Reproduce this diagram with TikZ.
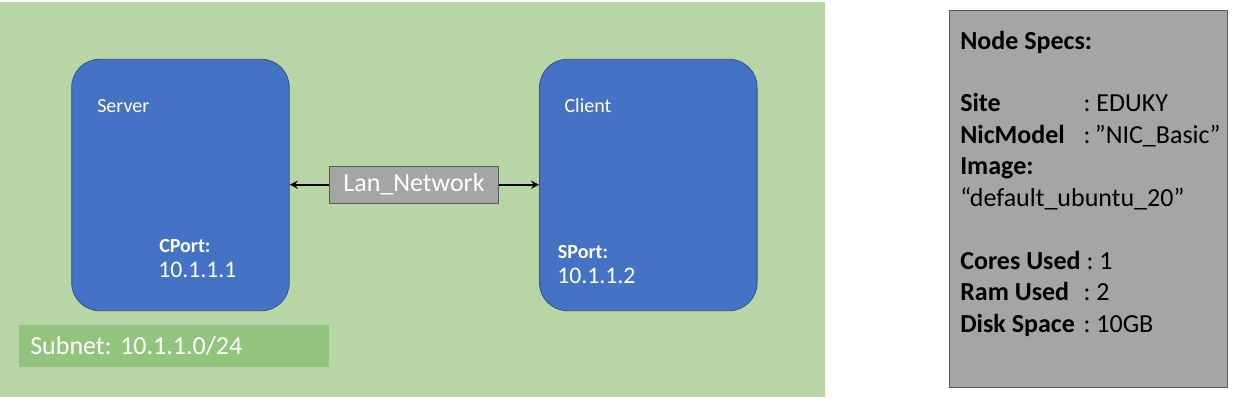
\documentclass[tikz,border=0pt]{standalone}
\usepackage{fontspec}
\setmainfont{Carlito}
\frenchspacing
\usetikzlibrary{arrows.meta}
\definecolor{subnetbg}{HTML}{B8D6A5}
\definecolor{subnetlbl}{HTML}{93C47D}
\definecolor{vmblue}{HTML}{4472C4}
\definecolor{vmedge}{HTML}{2F528F}
\definecolor{boxgray}{HTML}{A5A5A5}
\definecolor{boxedge}{HTML}{595959}
\tikzset{
  vmbox/.style={draw=vmedge, fill=vmblue, line width=0.6pt, rounded corners=21pt,
    minimum width=163.2pt, minimum height=188.6pt, inner sep=0pt},
  vmtext/.style={text=white, anchor=base west, inner sep=0pt, font=\fontsize{15}{18}\selectfont},
  iptext/.style={vmtext, font=\fontsize{17.8}{21}\selectfont},
  lanbox/.style={draw=boxedge, fill=boxgray, line width=0.75pt, text=white, inner sep=0pt,
    minimum width=127pt, minimum height=28pt, font=\fontsize{19.5}{23}\selectfont},
  subnetbox/.style={fill=subnetlbl, text=white, anchor=west, inner xsep=8.25pt, inner ysep=0pt,
    minimum height=31.3pt, text width=216pt, align=left, font=\fontsize{19.5}{23}\selectfont},
  specbox/.style={draw=boxedge, fill=boxgray, line width=0.75pt, minimum width=208.5pt,
    minimum height=282.5pt, inner sep=0pt},
  link/.style={line width=1.5pt, -{Stealth[length=6pt,width=6pt]}}
}
\begin{document}
\begin{tikzpicture}[x=0.75pt, y=-0.75pt, line join=round]
  \useasboundingbox (0,0) rectangle (1238,403);
  % subnet area
  \fill[subnetbg] (0,2) rectangle (825,397);
  \node[subnetbox] (subnet) at (19,345.8) {Subnet: 10.1.1.0/24};
  % nodes
  \node[vmbox] (server) at (180.5,185) {};
  \node[vmbox] (client) at (648.3,185) {};
  \node[vmtext] (servername) at (97,112.3) {Server};
  \node[vmtext] (clientname) at (564.3,112.3) {Client};
  \node[vmtext] (cport) at (159,252.3) {\bfseries CPort:};
  \node[iptext] (cip) at (158,277) {10.1.1.1};
  \node[vmtext] (sport) at (557.7,258.3) {\bfseries SPort:};
  \node[iptext] (sip) at (557,283.3) {10.1.1.2};
  % network
  \node[lanbox] (lan) at (414,184.7) {Lan\_Network};
  \draw[link] (lan.west) -- (server.east |- lan.west);
  \draw[link] (lan.east) -- (client.west |- lan.east);
  % specs
  \node[specbox] (specs) at (1088.3,199.3) {};
  \node[anchor=north west, inner sep=0pt, align=left, font=\fontsize{19.5}{23.6}\selectfont]
    (spectext) at (960,30.5) {%
    \textbf{Node Specs:}\\[23.6pt]
    \makebox[92.5pt][l]{\textbf{Site}}: EDUKY\\
    \makebox[92.5pt][l]{\textbf{NicModel}}:\,”NIC\_Basic”\\
    \textbf{Image:}\\
    “default\_ubuntu\_20”\\[23.6pt]
    \textbf{Cores Used} : 1\\
    \makebox[92.5pt][l]{\textbf{Ram Used}}: 2\\
    \makebox[92.5pt][l]{\textbf{Disk Space}}: 10GB};
\end{tikzpicture}
\end{document}
